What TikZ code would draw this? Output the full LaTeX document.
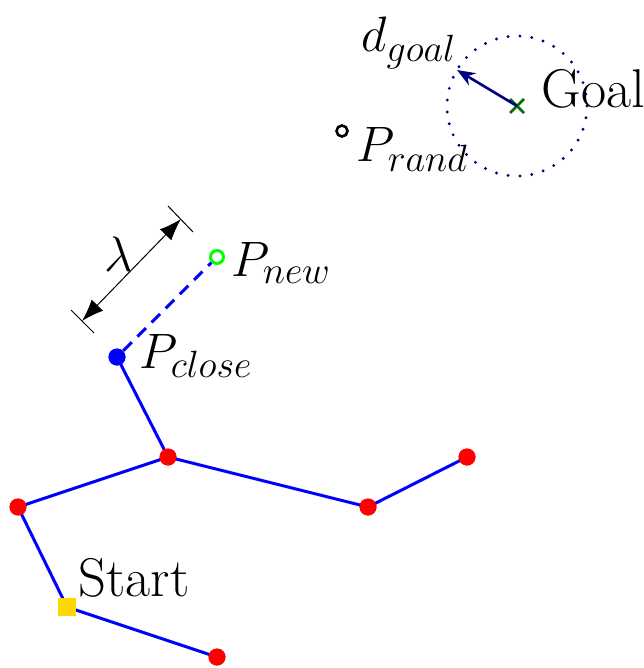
\RequirePackage{fix-cm}
\documentclass[tikz,border=0pt]{standalone}
\usetikzlibrary{arrows.meta}
\DeclareMathSizes{27.3}{24.88}{19}{14}
\definecolor{goldy}{RGB}{255,215,0}
\definecolor{darkgreen}{RGB}{0,110,0}
\definecolor{navyb}{RGB}{0,0,128}
\begin{document}
\begin{tikzpicture}[x=0.5pt,y=-0.5pt,
  every node/.style={inner sep=0pt,font=\fontsize{27.3}{31}\selectfont},
  edge/.style={blue,line width=1.5pt},
  rnode/.style={circle,fill=red,minimum size=8.5pt,inner sep=0pt},
  startbox/.style={fill=goldy,minimum size=9pt,inner sep=0pt},
  closenode/.style={circle,fill=blue,minimum size=8.5pt,inner sep=0pt},
  lbl/.style={anchor=base west}]
\useasboundingbox (0,0) rectangle (643,668);
% tree nodes
\node[rnode] (A) at (168,457) {};
\node[rnode] (B) at (18,507) {};
\node[rnode] (C) at (368,507) {};
\node[rnode] (D) at (467,457) {};
\node[rnode] (E) at (217,657) {};
\node[startbox] (S) at (67,607) {};
\node[closenode] (Pc) at (117,357) {};
\node[circle,draw=green,line width=1.5pt,minimum size=6.5pt,inner sep=0pt] (Pn) at (217,257) {};
\node[circle,draw=black,line width=1.3pt,minimum size=5.5pt,inner sep=0pt] (Pr) at (342,131) {};
% edges
\draw[edge] (S.center) -- (B.center);
\draw[edge] (B.center) -- (A.center);
\draw[edge] (A.center) -- (Pc.center);
\draw[edge] (A.center) -- (C.center);
\draw[edge] (C.center) -- (D.center);
\draw[edge] (S.center) -- (E.center);
\draw[blue,line width=1.5pt,dash pattern=on 6pt off 4pt] (Pc) -- (Pn);
% redraw nodes on top
\node[rnode] at (A) {};
\node[rnode] at (B) {};
\node[rnode] at (C) {};
\node[rnode] at (D) {};
\node[rnode] at (E) {};
\node[startbox] at (S) {};
\node[closenode] at (Pc) {};
% lambda dimension
\coordinate (l1) at (82,321);
\coordinate (l2) at (181,219);
\coordinate (b1a) at (71,310);
\coordinate (b1b) at (94,333);
\coordinate (b2a) at (168,206);
\coordinate (b2b) at (193,232);
\draw[line width=0.5pt] (b1a) -- (b1b);
\draw[line width=0.5pt] (b2a) -- (b2b);
\draw[line width=0.5pt,{Latex[length=11pt,width=8pt]}-{Latex[length=11pt,width=8pt]}] (l1) -- (l2);
\node (lam) at (119,254) {$\lambda$};
% goal
\coordinate (G) at (517,106);
\draw[navyb,line width=1.6pt,dash pattern=on 0pt off 5.943pt,line cap=round] (G) circle[radius=70];
\draw[darkgreen,line width=1.3pt] (510,99) -- (524,113) (510,113) -- (524,99);
\coordinate (gr) at (457,70);
\draw[navyb,line width=1.3pt,-{Stealth[length=9pt,width=7pt]}] (G) -- (gr);
% labels
\node[lbl] (lg) at (541,108) {Goal};
\node[lbl] (ld) at (361,52) {$d_{goal}$};
\node[lbl] (lr) at (356,162) {$P_{rand}$};
\node[lbl] (ln) at (231,276) {$P_{new}$};
\node[lbl] (lc) at (139,368) {$P_{close}$};
\node[lbl] (ls) at (78,596) {Start};
\end{tikzpicture}
\end{document}
